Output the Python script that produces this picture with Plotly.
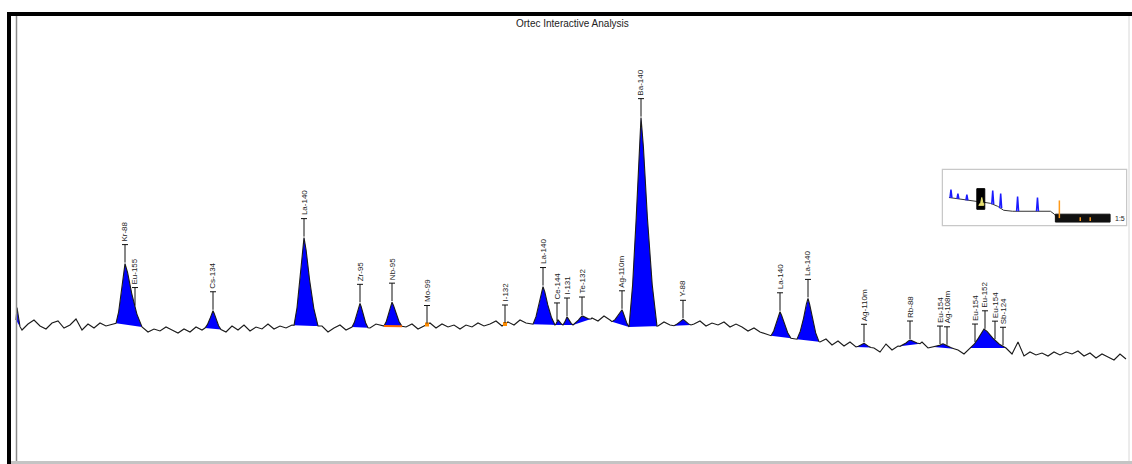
import numpy as np
import plotly.graph_objects as go

# ---------------- data ----------------
BASE_STEP = 6  # baseline sampled every 6 channels starting at channel 0
baseline_counts = [
    140, 130, 136, 140, 134, 131, 137, 139, 132, 135, 141, 130, 136, 132, 137, 134,
    136, 137, 137, 137, 136, 133, 128, 131, 129, 133, 130, 127, 131, 128, 133, 130,
    134, 134, 131, 128, 134, 130, 135, 129, 133, 131, 136, 131, 134, 132, 135, 134,
    134, 134, 134, 134, 128, 132, 135, 130, 133, 133, 133, 132, 136, 134, 134, 134,
    134, 133, 136, 131, 134, 137, 132, 136, 133, 135, 131, 135, 133, 137, 134, 136,
    139, 134, 138, 135, 140, 137, 136, 135, 135, 135, 135, 135, 135, 135, 135, 136,
    142, 139, 144, 140, 135, 134, 133, 133, 133, 133, 133, 134, 138, 135, 134, 134,
    134, 136, 139, 134, 137, 135, 138, 133, 136, 133, 129, 132, 128, 126, 124, 123,
    122, 122, 121, 120, 120, 120, 118, 121, 115, 119, 114, 118, 113, 113, 113, 112,
    108, 116, 110, 114, 113, 113, 113, 118, 112, 113, 112, 112, 112, 110, 106, 112,
    112, 112, 112, 112, 112, 112, 106, 118, 104, 108, 105, 107, 104, 108, 105, 108,
    106, 109, 104, 107, 102, 106, 103, 100, 106, 101,
]

peak_center = [1, 109, 197, 288, 344, 376, 527, 542, 551, 566, 606, 625, 667, 764, 792, 848, 894, 927, 968]
peak_height = [14, 61, 18, 88, 24, 24, 38, 5, 8, 6, 15, 209, 6, 25, 42, 4, 5, 4, 19]
peak_left = [0, 100, 189, 278, 336, 368, 517, 539, 547, 557, 596, 613, 658, 755, 781, 840, 884, 918, 954]
peak_right = [4, 126, 205, 302, 352, 386, 539, 547, 557, 575, 613, 641, 675, 775, 803, 855, 904, 938, 990]

label_channel = [109, 119, 197, 288, 344, 376, 411, 489, 527, 541, 551, 566, 606, 625, 667,
                 764, 792, 848, 894, 924, 931, 959, 969, 979, 987]
label_text = ["Kr-88", "Eu-155", "Cs-134", "La-140", "Zr-95", "Nb-95", "Mo-99", "I-132",
              "La-140", "Ce-144", "I-131", "Te-132", "Ag-110m", "Ba-140", "Y-88", "La-140",
              "La-140", "Ag-110m", "Rb-88", "Eu-154", "Ag-108m", "Eu-154", "Eu-152",
              "Eu-154", "Sb-124"]
unfitted_channel = [411, 489]
unfitted_peak_index = 5

# overview (inset) data
mini_x = [6, 12, 18, 24, 30, 34, 42, 48, 55, 61, 70, 78, 90, 100, 108, 112, 115, 130, 150, 168]
mini_y = [28, 27, 26, 25, 24, 24, 23, 22, 19, 15, 14, 14, 14, 14, 14, 11, 7, 7, 7, 7]
mini_peak_x = [8, 15, 24, 50, 58, 75, 95]
mini_peak_top = [36, 32, 31, 35, 32, 29, 28]
mini_view = [34, 42, 16, 37]
mini_tail = [113, 168, 3, 11]
mini_marker_x = [117]
mini_marker_top = [25]
mini_orange_x = [138, 148]

TITLE = "Ortec Interactive Analysis"

# ---------------- build spectrum ----------------
base_x = np.arange(len(baseline_counts)) * BASE_STEP
base_y = np.array(baseline_counts, dtype=float)

T = [-1.0, -0.7, -0.4, -0.15, 0.0, 0.15, 0.4, 0.7, 1.0]
F = [0.0, 0.2, 0.52, 0.86, 1.0, 0.86, 0.52, 0.2, 0.0]


def peak_vertices(i):
    c, h, l, r = peak_center[i], peak_height[i], peak_left[i], peak_right[i]
    bl = float(np.interp(l, base_x, base_y))
    br = float(np.interp(r, base_x, base_y))
    xs, ys, bs = [], [], []
    for t, f in zip(T, F):
        x = c + t * ((c - l) if t < 0 else (r - c))
        b = bl + (br - bl) * (x - l) / (r - l)
        xs.append(x)
        bs.append(b)
        ys.append(b + f * h)
    return xs, ys, bs


spec_x, spec_y = [], []
order = sorted(range(len(peak_center)), key=lambda k: peak_left[k])
pi = 0
for bx, by in zip(base_x, base_y):
    while pi < len(order) and peak_left[order[pi]] <= bx:
        xs, ys, _ = peak_vertices(order[pi])
        for a, b in zip(xs, ys):
            if spec_x and a <= spec_x[-1]:
                continue
            spec_x.append(a)
            spec_y.append(b)
        pi += 1
    if spec_x and bx <= spec_x[-1]:
        continue
    inside = any(peak_left[k] < bx < peak_right[k] for k in range(len(peak_center)))
    if inside:
        continue
    spec_x.append(float(bx))
    spec_y.append(float(by))

fig = go.Figure()

# blue fitted peak areas
for i in range(len(peak_center)):
    xs, ys, bs = peak_vertices(i)
    fig.add_trace(go.Scatter(
        x=xs + xs[::-1], y=ys + bs[::-1], fill="toself", fillcolor="#0000ff",
        line=dict(width=0, color="#0000ff"), mode="lines", hoverinfo="skip",
        showlegend=False))

# spectrum line
fig.add_trace(go.Scatter(x=spec_x, y=spec_y, mode="lines",
                         line=dict(color="#1a1a1a", width=1.1), showlegend=False,
                         hoverinfo="skip"))

# unfitted ROI marks (orange)
xs, ys, bs = peak_vertices(unfitted_peak_index)
fig.add_trace(go.Scatter(x=[xs[0], xs[-1]], y=[bs[0], bs[-1]], mode="lines",
                         line=dict(color="#ff6a00", width=2), showlegend=False))
uy = [float(np.interp(c, spec_x, spec_y)) for c in unfitted_channel]
fig.add_trace(go.Scatter(x=unfitted_channel, y=uy, mode="markers",
                         marker=dict(color="#ff8c00", size=4, symbol="square"),
                         showlegend=False))

# peak label markers
LINE_LEN = 18
mx, my = [], []
for c, txt in zip(label_channel, label_text):
    tip = float(np.interp(c, spec_x, spec_y)) + 1
    top = tip + LINE_LEN
    mx += [c, c, None, c - 3, c + 3, None]
    my += [tip, top, None, top, top, None]
    fig.add_annotation(x=c, y=top + 1, text=txt,
                       textangle=-90, showarrow=False, xanchor="center",
                       yanchor="bottom", font=dict(size=8, color="#222222",
                                                   family="Liberation Sans"))
fig.add_trace(go.Scatter(x=mx, y=my, mode="lines", line=dict(color="#111111", width=1),
                         showlegend=False, hoverinfo="skip"))

# ---------------- inset overview ----------------
fig.add_trace(go.Scatter(x=mini_x, y=mini_y, mode="lines", line=dict(color="#333333", width=1),
                         xaxis="x2", yaxis="y2", showlegend=False))
sx, sy = [], []
for px_, pt in zip(mini_peak_x, mini_peak_top):
    b = float(np.interp(px_, mini_x, mini_y))
    sx += [px_ - 1, px_, px_ + 1, None]
    sy += [b, pt, b, None]
fig.add_trace(go.Scatter(x=sx, y=sy, mode="lines", line=dict(color="#1a1aff", width=1.5),
                         xaxis="x2", yaxis="y2", showlegend=False))
vx0, vx1, vy0, vy1 = mini_view
fig.add_trace(go.Scatter(x=[vx0, vx1, vx1, vx0, vx0], y=[vy0, vy0, vy1, vy1, vy0],
                         fill="toself", fillcolor="#000000", mode="lines",
                         line=dict(color="#000000", width=1), xaxis="x2", yaxis="y2",
                         showlegend=False))
fig.add_trace(go.Scatter(x=[vx0 + 2, vx0 + 4, vx0 + 5, vx0 + 6, vx0 + 7, vx0 + 7, vx0 + 2],
                         y=[vy0 + 4, vy0 + 7, vy0 + 12, vy0 + 7, vy0 + 6, vy0 + 4, vy0 + 4],
                         fill="toself", fillcolor="#e8e070", mode="lines",
                         line=dict(color="#e8e070", width=1), xaxis="x2", yaxis="y2",
                         showlegend=False))
tx0, tx1, ty0, ty1 = mini_tail
fig.add_trace(go.Scatter(x=[tx0, tx1, tx1, tx0, tx0], y=[ty0, ty0, ty1, ty1, ty0],
                         fill="toself", fillcolor="#111111", mode="lines",
                         line=dict(color="#111111", width=1), xaxis="x2", yaxis="y2",
                         showlegend=False))
ox, oy = [], []
for m, t in zip(mini_marker_x, mini_marker_top):
    ox += [m, m, None]
    oy += [ty0 + 4, t, None]
for m in mini_orange_x:
    ox += [m, m, None]
    oy += [ty0 + 1, ty0 + 5, None]
fig.add_trace(go.Scatter(x=ox, y=oy, mode="lines", line=dict(color="#ff9a1a", width=1.5),
                         xaxis="x2", yaxis="y2", showlegend=False))
fig.add_annotation(x=178, y=7, xref="x2", yref="y2", text="1:5", showarrow=False,
                   font=dict(size=7, color="#222222", family="Liberation Sans"))

W, H = 1132, 464


def px(v):
    return v / W


def py(v):
    return 1 - v / H


shapes = [
    # outer black frame (top and left)
    dict(type="rect", xref="paper", yref="paper", x0=px(7), x1=px(1132), y0=py(16), y1=py(12),
         fillcolor="#000000", line=dict(width=0)),
    dict(type="rect", xref="paper", yref="paper", x0=px(7), x1=px(11), y0=py(464), y1=py(12),
         fillcolor="#000000", line=dict(width=0)),
    # inner grey left line
    dict(type="line", xref="paper", yref="paper", x0=px(16.5), x1=px(16.5), y0=py(462), y1=py(16),
         line=dict(color="#8a8a8a", width=1.5)),
    # bottom grey band
    dict(type="rect", xref="paper", yref="paper", x0=px(11), x1=px(1132), y0=py(464), y1=py(461),
         fillcolor="#c4c4c4", line=dict(width=0)),
    # right light edge
    dict(type="line", xref="paper", yref="paper", x0=px(1129), x1=px(1129), y0=py(461), y1=py(16),
         line=dict(color="#d8d8d8", width=1)),
    # inset box
    dict(type="rect", xref="paper", yref="paper", x0=px(943), x1=px(1126), y0=py(225), y1=py(170),
         fillcolor="#ffffff", line=dict(color="#c8c8c8", width=2.5), layer="below"),
]

fig.add_annotation(x=px(572), y=py(24), xref="paper", yref="paper", text=TITLE,
                   showarrow=False, xanchor="center", yanchor="middle",
                   font=dict(size=10, color="#222222", family="Liberation Sans"))

fig.update_layout(
    width=W, height=H, margin=dict(l=0, r=0, t=0, b=0),
    paper_bgcolor="#ffffff", plot_bgcolor="#ffffff", showlegend=False,
    shapes=shapes,
    xaxis=dict(range=[-16, W - 16], visible=False, showgrid=False, zeroline=False,
               domain=[0, 1]),
    yaxis=dict(range=[-4, H - 4], visible=False, showgrid=False, zeroline=False,
               domain=[0, 1]),
    xaxis2=dict(range=[0, 184], domain=[px(943), px(1126)], anchor="y2", visible=False),
    yaxis2=dict(range=[0, 56], domain=[py(225), py(170)], anchor="x2", visible=False),
)

fig.write_html("out.html", config={"displayModeBar": False},
               post_script="document.body.style.margin='0';document.body.style.overflow='hidden';")
